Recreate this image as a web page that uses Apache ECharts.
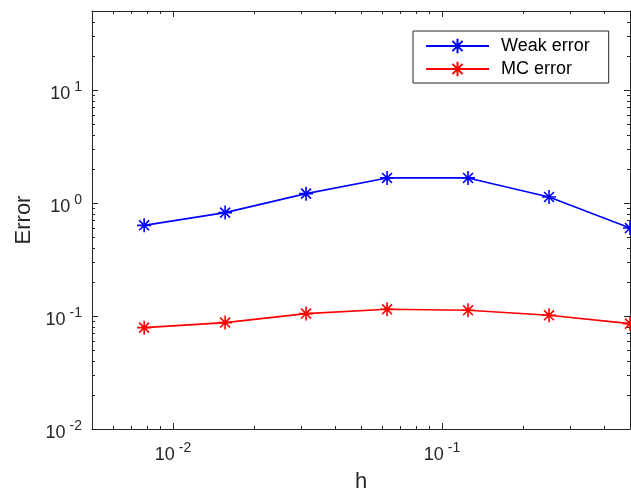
<!DOCTYPE html>
<html>
<head>
<meta charset="utf-8">
<script src="https://cdn.jsdelivr.net/npm/echarts@6/dist/echarts.min.js"></script>
<style>
  html, body { margin: 0; padding: 0; background: #fff; }
  #container { width: 631px; height: 492px; }
</style>
</head>
<body>
<div id="container"></div>
<script>
// step sizes h and the two error curves
var hValues = [0.0078125, 0.015625, 0.03125, 0.0625, 0.125, 0.25, 0.5];
var weakError = [0.634, 0.822, 1.21, 1.667, 1.667, 1.13, 0.60];
var mcError = [0.0789, 0.0874, 0.105, 0.1147, 0.1124, 0.1014, 0.0856];

var seriesNames = ['Weak error', 'MC error'];

// tick positions
var xMajorTicks = [0.01, 0.1];
var xMinorTicks = [0.006, 0.007, 0.008, 0.009, 0.02, 0.03, 0.04, 0.05, 0.06, 0.07, 0.08, 0.09, 0.2, 0.3, 0.4];
var yMajorTicks = [0.01, 0.1, 1, 10];
var yMinorTicks = [0.02, 0.03, 0.04, 0.05, 0.06, 0.07, 0.08, 0.09, 0.2, 0.3, 0.4, 0.5, 0.6, 0.7, 0.8, 0.9,
                   2, 3, 4, 5, 6, 7, 8, 9, 20, 30, 40];

var axisColor = '#262626';
var fontFamily = '"Liberation Sans", Arial, Helvetica, sans-serif';

var starSymbol = 'path://M0,-10L0,10M-10,0L10,0M-7.07,-7.07L7.07,7.07M-7.07,7.07L7.07,-7.07';

function pairs(xs, ys) {
    var result = [];
    for (var i = 0; i < xs.length; i++) {
        result.push([xs[i], ys[i]]);
    }
    return result;
}

function powLabel(v) {
    var e = Math.round(Math.log(v) / Math.LN10);
    return '{b|10}{s|' + e + '}';
}

var labelRich = {
    b: { fontSize: 18, fontFamily: fontFamily, color: axisColor, padding: [8, 0, 0, 0] },
    s: { fontSize: 14, fontFamily: fontFamily, color: axisColor, padding: [3, 0, 9, 4] }
};

function logAxis(opts) {
    var ax = {
        type: 'log',
        logBase: 10,
        min: opts.min,
        max: opts.max,
        position: opts.position,
        axisLine: { show: !!opts.line, onZero: false, lineStyle: { color: axisColor, width: 1 } },
        axisTick: {
            show: true,
            inside: true,
            length: opts.tickLen,
            customValues: opts.ticks,
            lineStyle: { color: axisColor, width: 1 }
        },
        axisLabel: { show: false },
        splitLine: { show: false },
        minorTick: { show: false }
    };
    if (opts.labels) {
        ax.axisLabel = {
            show: true,
            customValues: opts.labels,
            margin: opts.margin,
            formatter: powLabel,
            rich: labelRich
        };
    }
    if (opts.name) {
        ax.name = opts.name;
        ax.nameLocation = 'middle';
        ax.nameGap = opts.nameGap;
        ax.nameTextStyle = { fontSize: 22, fontFamily: fontFamily, color: axisColor };
    }
    return ax;
}

var dom = document.getElementById('container');
var myChart = echarts.init(dom, null, { renderer: 'canvas' });

var option = {
    animation: false,
    backgroundColor: '#fff',
    grid: { left: 92, right: 1, top: 11, bottom: 63, containLabel: false, outerBoundsMode: 'none' },
    legend: {
        orient: 'vertical',
        left: 413,
        top: 31,
        data: seriesNames,
        itemWidth: 63,
        itemHeight: 18,
        itemGap: 5,
        padding: [6, 19, 5, 12],
        borderColor: axisColor,
        borderWidth: 1,
        backgroundColor: '#fff',
        textStyle: { fontSize: 18, fontFamily: fontFamily, color: '#000', padding: [0, 0, 0, 7] }
    },
    xAxis: [
        logAxis({ min: 0.005, max: 0.5, position: 'bottom', line: true, tickLen: 6, ticks: xMajorTicks,
                  labels: xMajorTicks, margin: 9, name: 'h', nameGap: 42 }),
        logAxis({ min: 0.005, max: 0.5, position: 'bottom', tickLen: 3, ticks: xMinorTicks }),
        logAxis({ min: 0.005, max: 0.5, position: 'top', line: true, tickLen: 6, ticks: xMajorTicks }),
        logAxis({ min: 0.005, max: 0.5, position: 'top', tickLen: 3, ticks: xMinorTicks })
    ],
    yAxis: [
        logAxis({ min: 0.01, max: 50, position: 'left', line: true, tickLen: 6, ticks: yMajorTicks,
                  labels: yMajorTicks, margin: 10, name: 'Error', nameGap: 57 }),
        logAxis({ min: 0.01, max: 50, position: 'left', tickLen: 3, ticks: yMinorTicks }),
        logAxis({ min: 0.01, max: 50, position: 'right', line: true, tickLen: 6, ticks: yMajorTicks }),
        logAxis({ min: 0.01, max: 50, position: 'right', tickLen: 3, ticks: yMinorTicks })
    ],
    series: [
        {
            name: seriesNames[0],
            type: 'line',
            xAxisIndex: 0,
            yAxisIndex: 0,
            data: pairs(hValues, weakError),
            symbol: starSymbol,
            symbolSize: 14,
            color: '#0000ff',
            lineStyle: { color: '#0000ff', width: 1.6 },
            itemStyle: { color: '#0000ff', borderColor: '#0000ff', borderWidth: 1.6 },
            clip: false
        },
        {
            name: seriesNames[1],
            type: 'line',
            xAxisIndex: 0,
            yAxisIndex: 0,
            data: pairs(hValues, mcError),
            symbol: starSymbol,
            symbolSize: 14,
            color: '#ff0000',
            lineStyle: { color: '#ff0000', width: 1.6 },
            itemStyle: { color: '#ff0000', borderColor: '#ff0000', borderWidth: 1.6 },
            clip: false
        }
    ]
};

myChart.setOption(option);
</script>
</body>
</html>
